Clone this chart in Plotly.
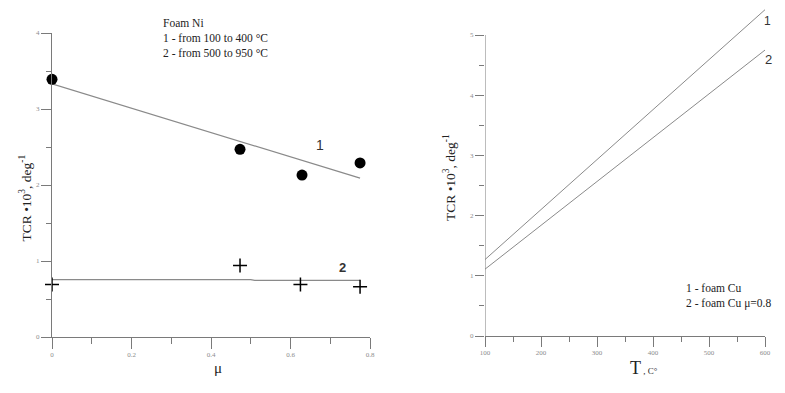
import plotly.graph_objects as go

# ---- Left panel data (Foam Ni) ----
mu_1 = [0.0, 0.473, 0.629, 0.775]
tcr_1 = [3.39, 2.47, 2.13, 2.29]
fit_mu_1 = [0.0, 0.775]
fit_tcr_1 = [3.33, 2.09]

mu_2 = [0.0, 0.473, 0.625, 0.775]
tcr_2 = [0.69, 0.94, 0.69, 0.66]
fit_mu_2 = [0.0, 0.5, 0.51, 0.775]
fit_tcr_2 = [0.755, 0.755, 0.745, 0.745]

left_yticks = [0, 1, 2, 3, 4]
left_xticks = [0, 0.2, 0.4, 0.6, 0.8]
left_xtick_labels = ["0", "0.2", "0.4", "0.6", "0.8"]

# ---- Right panel data (foam Cu) ----
T_vals = [100, 600]
tcr_cu = [1.27, 5.42]
tcr_cu08 = [1.11, 4.75]
right_yticks = [0, 1, 2, 3, 4, 5]
right_xticks = [100, 200, 300, 400, 500, 600]

# page is 785x393 with 8px body margin
OFF = 8
W, H = 785 - 2 * OFF, 393 - 2 * OFF
def px_x(p):
    return min(1.0, max(0.0, (p - OFF) / W))
def px_y(p):
    return min(1.0, max(0.0, (H - (p - OFF)) / H))

LINE = "#8a8a8a"
AX = "#7a7a7a"
TICKFONT = dict(family="Liberation Serif", size=7, color="#8c8c8c")
SERIF = "Liberation Serif"

R_TOP = 5.44
R_UNIT = (336 - 35) / 5.0

fig = go.Figure()

fig.add_trace(go.Scatter(x=fit_mu_1, y=fit_tcr_1, mode="lines",
                         line=dict(color=LINE, width=1.2), xaxis="x", yaxis="y",
                         showlegend=False, hoverinfo="skip"))
fig.add_trace(go.Scatter(x=mu_1, y=tcr_1, mode="markers",
                         marker=dict(color="black", size=11, symbol="circle"),
                         xaxis="x", yaxis="y", cliponaxis=False, showlegend=False))
fig.add_trace(go.Scatter(x=fit_mu_2, y=fit_tcr_2, mode="lines",
                         line=dict(color=LINE, width=1.2), xaxis="x", yaxis="y",
                         showlegend=False, hoverinfo="skip"))
fig.add_trace(go.Scatter(x=mu_2, y=tcr_2, mode="markers",
                         marker=dict(color="black", size=10, symbol="cross-thin",
                                     line=dict(color="black", width=1.5)),
                         xaxis="x", yaxis="y", cliponaxis=False, showlegend=False))

fig.add_trace(go.Scatter(x=T_vals, y=tcr_cu, mode="lines",
                         line=dict(color=LINE, width=1), xaxis="x2", yaxis="y2",
                         showlegend=False))
fig.add_trace(go.Scatter(x=T_vals, y=tcr_cu08, mode="lines",
                         line=dict(color=LINE, width=1), xaxis="x2", yaxis="y2",
                         showlegend=False))

common = dict(showgrid=False, zeroline=False, ticks="outside", tickcolor=AX,
              tickfont=TICKFONT, automargin=False, fixedrange=True)

fig.update_layout(
    width=W, height=H, margin=dict(l=0, r=0, t=0, b=0),
    paper_bgcolor="white", plot_bgcolor="white", showlegend=False,
    xaxis=dict(domain=[px_x(52), px_x(370)], range=[0, 0.8], anchor="y",
               tickmode="array", tickvals=left_xticks, ticktext=left_xtick_labels,
               ticklen=11, showline=True, linecolor=AX, linewidth=1,
               minor=dict(tickvals=[0.1, 0.3, 0.5, 0.7], ticklen=6, ticks="outside", tickcolor=AX),
               **common),
    yaxis=dict(domain=[px_y(337), px_y(33)], range=[0, 4], anchor="x",
               tickmode="array", tickvals=left_yticks, ticklen=10,
               showline=True, linecolor=AX, linewidth=1,
               minor=dict(tickvals=[0.5, 1.5, 2.5, 3.5], ticklen=5, ticks="outside", tickcolor=AX),
               **common),
    xaxis2=dict(domain=[px_x(485), px_x(765)], range=[100, 600], anchor="y2",
                tickmode="array", tickvals=right_xticks, ticklen=10,
                showline=True, linecolor=AX, linewidth=1,
                minor=dict(tickvals=[150, 250, 350, 450, 550], ticklen=5, ticks="outside", tickcolor=AX),
                **common),
    yaxis2=dict(domain=[px_y(336), px_y(336 - R_TOP * R_UNIT)], range=[0, R_TOP], anchor="x2",
                tickmode="array", tickvals=right_yticks, ticklen=9,
                showline=False,
                minor=dict(tickvals=[0.5, 1.5, 2.5, 3.5, 4.5], ticklen=5, ticks="outside", tickcolor=AX),
                **common),
)

# right y-axis line only up to 5
fig.add_shape(type="line", xref="x2", yref="y2", x0=100, x1=100, y0=0, y1=5,
              line=dict(color=AX, width=1))

ann = []
ann.append(dict(xref="paper", yref="paper", x=px_x(161), y=px_y(15), xanchor="left", yanchor="top",
                text="Foam Ni<br>1 - from 100 to 400 °C<br>2 - from 500 to 950 °C",
                align="left", showarrow=False,
                font=dict(family=SERIF, size=11.5, color="#222")))
ann.append(dict(xref="x", yref="y", x=0.674, y=2.53, text="1", showarrow=False,
                font=dict(family="Liberation Sans", size=14, color="#333")))
ann.append(dict(xref="x", yref="y", x=0.73, y=0.92, text="<b>2</b>", showarrow=False,
                font=dict(family="Liberation Sans", size=13, color="#333")))
ann.append(dict(xref="paper", yref="paper", x=px_x(15), y=px_y(198), textangle=-90,
                text="TCR •10<sup>3</sup>, deg<sup>-1</sup>", showarrow=False,
                font=dict(family=SERIF, size=13.5, color="#222")))
ann.append(dict(xref="paper", yref="paper", x=px_x(212), y=px_y(378),
                text="μ", showarrow=False,
                font=dict(family=SERIF, size=15, color="#222")))
ann.append(dict(xref="paper", yref="paper", x=px_x(450), y=px_y(178), textangle=-90,
                text="TCR •10<sup>3</sup>, deg<sup>-1</sup>", showarrow=False,
                font=dict(family=SERIF, size=13.5, color="#222")))
ann.append(dict(xref="paper", yref="paper", x=px_x(628), y=px_y(380), xanchor="left",
                text="T<span style='font-size:9px'> , C°</span>", showarrow=False,
                font=dict(family=SERIF, size=18, color="#222")))
ann.append(dict(xref="paper", yref="paper", x=px_x(773), y=px_y(12),
                text="1", showarrow=False,
                font=dict(family="Liberation Sans", size=12, color="#333")))
ann.append(dict(xref="paper", yref="paper", x=px_x(774), y=px_y(50),
                text="2", showarrow=False,
                font=dict(family="Liberation Sans", size=13, color="#333")))
ann.append(dict(xref="paper", yref="paper", x=px_x(684), y=px_y(280), xanchor="left", yanchor="top",
                text="1 - foam Cu<br>2 - foam Cu μ=0.8", align="left", showarrow=False,
                font=dict(family=SERIF, size=11.5, color="#222")))

fig.update_layout(annotations=ann)

fig.write_html("out.html")
